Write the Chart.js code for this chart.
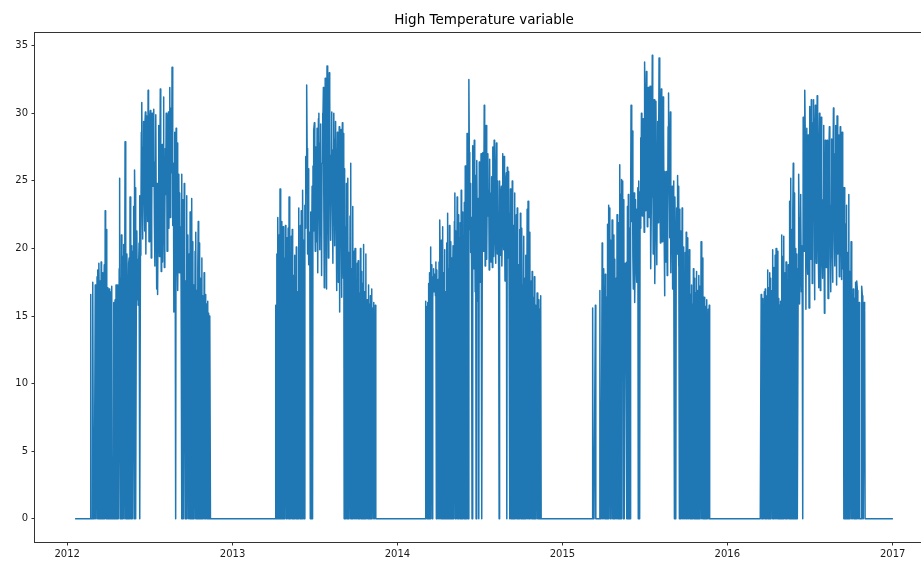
<!DOCTYPE html>
<html>
<head>
<meta charset="utf-8">
<script src="https://cdn.jsdelivr.net/npm/chart.js@4.4.1/dist/chart.umd.min.js"></script>
<style>
  html, body { margin: 0; padding: 0; background: #ffffff; overflow: hidden; }
  #wrap { width: 940px; height: 562px; }
</style>
</head>
<body>
<div id="wrap"><canvas id="c" width="940" height="562"></canvas></div>
<script>
// Daily high temperature (°C); days that stay under the threshold are recorded as 0.
const chartTitle = 'High Temperature variable';

// first and last day of the record, both 0
const seriesBounds = ['2012-01-20', '2016-12-31'];

// each warm season is a run of consecutive daily readings starting on these dates
const seasonStarts = ['2012-02-20', '2013-04-05', '2014-03-01', '2015-03-06', '2016-03-14'];

const season2012 = [
  0,0,16.6,0,0,0,0,17.5,0,0,
  0,0,17.3,0,0,0,17.9,0,18.4,0,
  18.9,15.8,0,17.6,0,19.0,0,0,16.4,18.2,
  0,17.0,18.8,0,22.8,20.1,0,21.4,0,0,
  17.1,0,16.5,17.0,0,15.9,0,16.8,0,17.2,
  0,0,0,16.0,0,15.6,16.2,0,17.3,0,
  16.9,0,17.3,0,0,18.5,25.2,0,17.8,0,
  21.0,0,19.4,0,16.7,20.3,0,0,27.9,0,
  18.6,0,19.6,17.2,0,0,18.9,19.3,0,23.8,
  0,21.6,0,20.2,0,0,19.8,23.1,0,25.8,
  22.4,24.5,0,17.6,21.3,16.2,19.2,15.8,18.7,20.4,
  23.9,0,19.5,21.0,28.6,30.8,24.3,20.7,27.5,29.4,
  25.1,21.3,28.9,30.1,19.6,24.7,29.8,26.2,22.0,31.7,
  28.3,20.5,23.8,29.6,30.2,25.4,19.3,22.7,30.0,27.1,
  24.6,29.5,30.3,21.8,18.7,26.4,29.9,22.5,17.0,24.8,
  16.6,21.9,27.3,29.1,19.4,25.6,31.8,28.0,18.3,24.2,
  27.7,19.0,23.5,31.2,26.9,18.6,22.1,27.4,24.0,30.0,
  28.5,19.8,25.7,29.6,30.1,21.5,26.8,31.9,22.3,27.2,
  30.4,25.6,33.4,28.9,21.7,26.3,15.3,22.4,28.6,19.1,
  0,28.9,23.5,20.6,27.8,16.9,22.3,25.5,18.2,24.1,
  19.4,21.6,17.5,0,25.5,0,23.6,0,0,24.8,
  19.2,0,17.6,0,23.9,0,18.4,21.0,0,0,
  19.6,0,22.7,0,0,18.1,23.7,0,20.5,0,
  17.3,0,0,19.8,0,21.2,0,16.9,0,18.6,
  22.0,0,0,20.4,0,0,17.8,0,19.3,0,
  16.5,0,0,18.2,0,0,16.6,0,15.9,0,
  0,16.1,0,15.2,0,0,15.0,0,0,0
];

const season2013 = [
  0,0,15.8,0,19.6,0,22.3,16.4,0,21.0,
  0,24.4,0,18.7,0,22.0,0,17.1,21.6,0,
  0,19.3,0,21.7,16.2,0,20.8,0,0,21.5,
  0,23.8,0,17.4,0,0,20.9,0,21.4,0,
  18.0,0,0,19.5,0,17.2,0,20.1,0,0,
  16.8,0,23.0,0,19.1,0,21.7,0,22.8,0,
  0,24.3,17.9,0,20.6,0,23.2,21.5,26.8,24.1,
  32.1,27.4,19.6,23.0,25.9,18.8,21.2,20.0,0,22.7,
  0,19.4,24.6,0,26.1,21.3,28.7,29.3,22.6,19.8,
  27.5,24.2,20.5,28.9,25.0,18.2,29.6,30.0,23.4,19.9,
  27.8,29.2,24.1,18.0,26.3,30.0,28.4,31.9,22.7,17.1,
  25.8,32.6,29.5,21.4,17.0,33.5,30.8,26.2,19.3,28.6,
  33.0,31.2,24.7,20.6,26.9,30.1,28.2,22.5,18.9,27.3,
  30.0,25.6,20.2,28.1,29.4,23.8,16.9,21.5,28.6,26.0,
  17.5,23.9,29.0,15.3,22.1,27.2,28.8,16.4,24.5,29.3,
  20.7,17.8,28.5,0,25.9,0,21.6,0,24.8,0,
  0,25.2,0,19.7,0,0,22.4,0,26.3,0,
  18.5,0,23.1,0,0,19.8,0,20.0,0,17.2,
  0,0,18.9,0,19.1,0,0,16.7,0,20.0,
  0,18.3,0,0,17.4,0,20.3,0,0,16.8,
  0,19.6,0,0,16.2,0,0,17.3,0,15.9,
  0,16.5,0,0,17.0,0,0,15.6,0,16.0,
  0,0,15.8,0,0,0,0
];

const season2014 = [
  0,0,0,16.1,0,15.7,0,0,16.0,0,
  17.4,0,18.2,0,20.1,0,17.6,18.8,0,16.3,
  17.9,18.5,16.8,17.2,18.1,16.5,19.0,0,18.4,0,
  0,17.7,0,19.0,0,22.1,17.3,0,20.6,0,
  0,21.6,0,18.2,0,19.9,0,0,16.8,0,
  20.4,0,22.6,0,18.5,0,21.7,0,0,20.5,
  0,19.3,0,17.6,20.2,0,0,22.0,24.1,0,
  21.3,0,0,23.8,0,19.6,22.5,0,20.8,0,
  21.9,0,24.3,0,0,22.7,0,19.8,0,23.4,
  0,26.1,0,24.9,0,28.5,0,25.3,0,32.5,
  27.1,21.4,24.8,19.7,22.3,18.6,0,27.6,23.0,18.5,
  26.2,28.0,21.9,16.8,25.4,0,22.6,26.5,19.2,16.1,
  23.7,0,26.4,21.0,17.5,24.2,27.0,20.3,0,24.6,
  27.1,19.8,22.9,30.6,26.4,18.7,23.5,29.1,21.8,19.2,
  25.7,27.0,22.4,24.3,18.4,26.6,20.9,24.1,19.0,22.8,
  25.3,18.6,27.5,23.6,19.4,28.0,26.2,21.0,18.9,24.7,
  27.8,22.5,19.6,25.0,21.3,18.2,0,25.0,22.1,19.5,
  23.8,24.6,18.7,21.2,27.0,23.5,19.9,26.8,22.3,17.6,
  20.4,24.9,25.6,0,26.0,19.3,23.1,25.7,17.9,22.6,
  0,24.4,0,23.8,0,25.0,0,0,21.7,0,
  24.1,19.6,0,0,22.5,0,23.0,0,18.8,0,
  0,21.4,0,22.6,0,0,21.5,17.3,0,0,
  20.9,0,0,17.8,0,19.5,0,0,22.9,0,
  23.5,18.1,0,0,21.2,0,0,17.6,0,18.3,
  0,16.4,0,0,17.9,0,0,15.8,0,0,
  16.7,0,0,16.2,0,0,15.5,0,16.5,0,
  0,0,0
];

const season2015 = [
  0,0,0,15.6,0,0,0,0,0,15.8,
  0,0,0,0,0,0,0,0,0,16.9,
  0,0,0,0,20.4,0,16.3,18.5,0,17.2,
  0,18.1,0,0,16.4,0,21.8,0,23.2,0,
  17.5,23.0,0,20.6,0,0,22.1,0,18.3,0,
  21.0,0,19.2,0,0,17.8,0,22.5,0,20.4,
  0,21.9,0,26.2,0,24.0,0,25.1,21.3,19.7,
  25.0,0,23.6,0,0,18.9,17.4,16.2,19.0,0,
  23.1,0,24.0,0,21.5,0,0,22.8,30.6,26.3,
  22.0,28.7,19.5,17.0,21.3,24.1,16.0,18.8,23.6,20.2,
  17.5,22.9,19.1,24.5,0,25.0,21.7,0,24.2,28.2,
  21.5,30.0,26.3,22.4,28.9,29.6,24.0,21.2,33.8,29.5,
  22.8,27.4,33.1,30.2,21.6,25.7,31.9,28.0,22.3,26.6,
  32.0,29.1,18.5,23.8,27.7,34.3,30.4,19.6,25.2,31.0,
  28.3,17.4,22.6,30.9,26.1,18.8,24.7,29.4,21.9,27.3,
  34.1,32.5,25.0,20.4,29.7,31.8,23.3,20.5,26.8,31.2,
  28.6,22.1,16.5,25.7,23.4,19.0,25.7,24.1,18.0,22.6,
  29.0,31.5,26.2,20.8,24.9,30.1,18.2,23.0,21.5,24.6,
  17.0,22.4,25.0,19.7,0,23.8,21.0,0,21.5,23.0,
  19.6,25.4,22.1,18.7,24.6,0,22.9,0,21.3,0,
  0,23.0,0,20.1,0,18.4,0,0,19.7,0,
  21.2,0,17.5,0,20.8,0,0,19.9,0,16.6,
  0,0,17.3,0,15.9,0,18.5,0,0,17.8,
  0,16.7,0,18.3,0,0,16.9,0,18.0,0,
  17.2,0,0,20.5,0,0,19.3,0,16.4,0,
  0,16.4,0,15.7,0,0,16.2,0,0,15.5,
  0,15.8,0,0,0
];

const season2016 = [
  0,0,16.6,0,15.9,0,16.3,0,0,16.8,
  0,17.0,0,15.7,0,16.5,0,18.4,0,17.1,
  0,18.2,0,17.8,0,0,16.9,0,19.9,0,
  18.6,0,0,19.5,0,20.0,0,17.4,19.8,0,
  0,16.3,0,15.8,0,16.1,0,0,21.0,0,
  19.4,0,20.9,0,0,18.2,0,19.0,0,17.6,
  0,0,18.8,0,0,23.5,0,25.2,0,21.4,
  0,0,22.7,26.3,0,0,24.1,0,20.0,0,
  0,19.6,0,0,18.5,25.5,22.3,15.9,18.4,24.0,
  23.3,16.8,20.2,15.6,0,29.7,22.5,19.8,25.6,31.7,
  27.3,15.5,23.1,28.9,20.4,18.1,28.4,24.6,15.6,21.9,
  30.5,26.8,19.2,31.0,27.5,17.4,22.6,29.3,31.0,23.8,
  16.2,27.0,30.6,21.5,18.9,25.4,31.3,28.2,20.7,17.1,
  26.5,30.0,22.4,16.9,24.3,29.7,26.1,19.3,17.8,23.6,
  29.1,25.0,15.2,20.8,28.0,24.2,18.6,22.9,28.0,25.4,
  16.3,21.7,26.5,29.0,25.8,19.5,16.8,23.2,28.1,21.3,
  17.5,24.8,30.4,26.9,20.6,18.7,27.0,29.1,22.0,17.3,
  29.8,25.5,19.6,28.4,23.0,17.9,24.6,29.0,26.2,20.4,
  17.7,28.6,23.1,18.5,24.5,0,24.5,0,21.8,0,
  0,23.2,0,19.7,0,0,24.0,0,18.3,0,
  0,20.5,0,17.6,0,0,17.0,0,0,16.3,
  0,17.5,0,0,17.6,16.9,0,0,0,16.0,
  0,0,0,0,0,17.2,16.5,0,0,0,
  16.0,15.4,0,0,0
];

const seasons = [season2012, season2013, season2014, season2015, season2016];

// axis tick labels
const yearLabels = ['2012', '2013', '2014', '2015', '2016', '2017'];
const tempTicks = [0, 5, 10, 15, 20, 25, 30, 35];

// ---- build the series: x = days since 2012-01-01 ----
const DAY_MS = 86400000;
const ORIGIN = Date.UTC(2012, 0, 1);
function dayIndex(iso) {
  const [y, m, d] = iso.split('-').map(Number);
  return Math.round((Date.UTC(y, m - 1, d) - ORIGIN) / DAY_MS);
}

const points = [{ x: dayIndex(seriesBounds[0]), y: 0 }];
seasons.forEach((vals, k) => {
  const start = dayIndex(seasonStarts[k]);
  vals.forEach((v, i) => points.push({ x: start + i, y: v }));
});
points.push({ x: dayIndex(seriesBounds[1]), y: 0 });

const yearDays = yearLabels.map(y => dayIndex(y + '-01-01'));

// 5% breathing room around the data on both axes
const xFirst = points[0].x, xLast = points[points.length - 1].x;
const xPad = (xLast - xFirst) * 0.05;
const yVals = points.map(p => p.y);
const yMinData = Math.min(...yVals), yMaxData = Math.max(...yVals);
const yPad = (yMaxData - yMinData) * 0.05;

const INK = '#1a1a1a';
const tickFont = { family: 'DejaVu Sans', size: 10 };

// box around the plotting area
const framePlugin = {
  id: 'frame',
  afterDatasetsDraw(chart) {
    const { ctx, chartArea: a } = chart;
    ctx.save();
    ctx.strokeStyle = '#333333';
    ctx.lineWidth = 1;
    ctx.strokeRect(Math.round(a.left) - 0.5, Math.round(a.top) + 0.5,
                   Math.round(a.right - a.left) + 1, Math.round(a.bottom - a.top));
    ctx.restore();
  }
};

new Chart(document.getElementById('c'), {
  type: 'line',
  data: {
    datasets: [{
      data: points,
      borderColor: '#1f77b4',
      borderWidth: 1.5,
      pointRadius: 0,
      tension: 0,
      fill: false,
      borderJoinStyle: 'round',
      borderCapStyle: 'square'
    }]
  },
  options: {
    responsive: false,
    animation: false,
    parsing: false,
    normalized: true,
    events: [],
    layout: { padding: { left: 0, right: 7, top: 0, bottom: 0 } },
    plugins: {
      legend: { display: false },
      tooltip: { enabled: false },
      title: {
        display: true,
        text: chartTitle,
        fullSize: false,
        color: '#000000',
        font: { family: 'DejaVu Sans', size: 13.5, weight: 'normal' },
        padding: { top: 12, bottom: 3.8 }
      }
    },
    scales: {
      x: {
        type: 'linear',
        min: xFirst - xPad,
        max: xLast + xPad,
        afterBuildTicks: s => { s.ticks = yearDays.map(v => ({ value: v })); },
        afterFit: s => { s.height = 20; },
        ticks: {
          autoSkip: false,
          maxRotation: 0,
          padding: 3,
          color: INK,
          font: tickFont,
          callback: (v, i) => yearLabels[i]
        },
        grid: { drawOnChartArea: false, drawTicks: true, tickLength: 3.5, color: '#333333', tickWidth: 1 },
        border: { display: false }
      },
      y: {
        type: 'linear',
        min: yMinData - yPad,
        max: yMaxData + yPad,
        afterBuildTicks: s => { s.ticks = tempTicks.map(v => ({ value: v })); },
        afterFit: s => { s.width = 35; },
        ticks: {
          autoSkip: false,
          padding: 3.5,
          color: INK,
          font: tickFont,
          callback: v => String(v)
        },
        grid: { drawOnChartArea: false, drawTicks: true, tickLength: 3.5, color: '#333333', tickWidth: 1 },
        border: { display: false }
      }
    }
  },
  plugins: [framePlugin]
});
</script>
</body>
</html>
